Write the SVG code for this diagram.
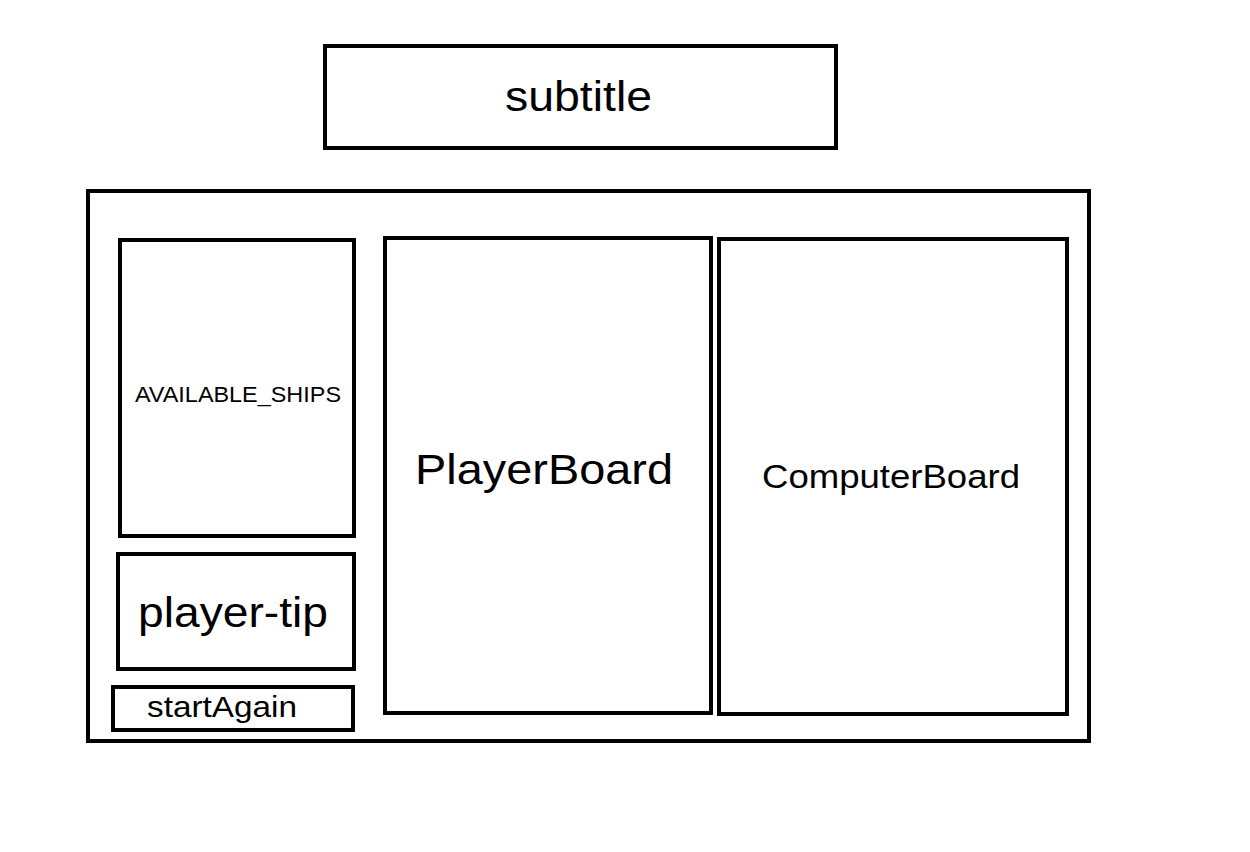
<svg xmlns="http://www.w3.org/2000/svg" width="1250" height="852" viewBox="0 0 1250 852">
<style>
rect.box{fill:none;stroke:#000;stroke-width:4}
text{font-family:"Liberation Sans",Arial,sans-serif;fill:#000}
</style>
<rect x="0" y="0" width="1250" height="852" fill="#fff"/>
<g id="subtitle"><rect class="box" x="325" y="46" width="511" height="102"/><text x="505" y="111" font-size="43" textLength="147" lengthAdjust="spacingAndGlyphs">subtitle</text></g>
<g id="container"><rect class="box" x="88" y="191" width="1001" height="550"/></g>
<g id="available-ships"><rect class="box" x="120" y="240" width="234" height="296"/><text x="135" y="402" font-size="22" textLength="206" lengthAdjust="spacingAndGlyphs">AVAILABLE_SHIPS</text></g>
<g id="player-tip"><rect class="box" x="118" y="554" width="236" height="115"/><text x="138" y="627" font-size="42" textLength="190" lengthAdjust="spacingAndGlyphs">player-tip</text></g>
<g id="startAgain"><rect class="box" x="113" y="687" width="240" height="43"/><text x="147" y="717" font-size="29" textLength="150" lengthAdjust="spacingAndGlyphs">startAgain</text></g>
<g id="PlayerBoard"><rect class="box" x="385" y="238" width="326" height="475"/><text x="415" y="484" font-size="42" textLength="258" lengthAdjust="spacingAndGlyphs">PlayerBoard</text></g>
<g id="ComputerBoard"><rect class="box" x="719" y="239" width="348" height="475"/><text x="762" y="488" font-size="34" textLength="258" lengthAdjust="spacingAndGlyphs">ComputerBoard</text></g>
<g id="connectors"></g>
</svg>
